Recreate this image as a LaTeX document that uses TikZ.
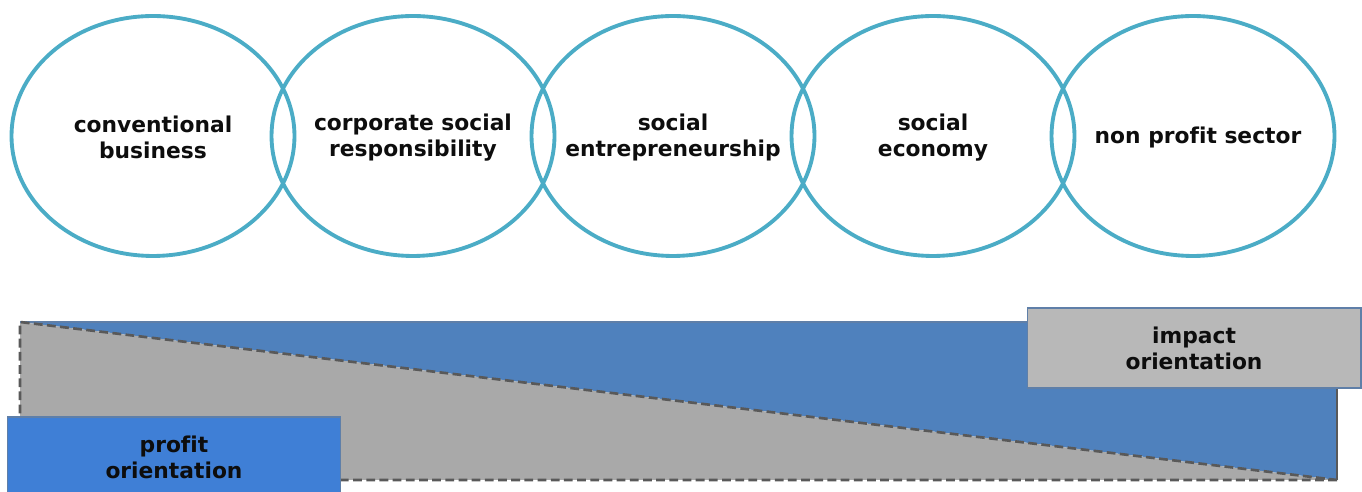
\documentclass[tikz,border=0pt]{standalone}
\usepackage{fontspec}
\setmainfont[Ligatures=NoCommon]{DejaVu Sans}
\usepackage{tikz}
\usetikzlibrary{shapes.geometric}
\definecolor{ringcyan}{HTML}{4BACC6}
\definecolor{barblue}{HTML}{4F81BD}
\definecolor{boxblue}{HTML}{3F7FD6}
\definecolor{bargray}{HTML}{A9A9A9}
\definecolor{boxgray}{HTML}{B8B8B8}
\definecolor{dashgray}{HTML}{595959}
\definecolor{edgeblue}{HTML}{5F7FA8}
\definecolor{inkblack}{HTML}{0D0D0D}

\begin{document}
\begin{tikzpicture}[x=0.02cm,y=-0.02cm,
		txt/.style={align=center,text=inkblack,font=\fontsize{12.4}{14.8}\selectfont\bfseries},
		ring/.style={ellipse,draw=ringcyan,line width=2.2pt,inner sep=0pt,minimum width=5.66cm,minimum height=4.8cm},
		tagbox/.style={txt,rectangle,draw=edgeblue,line width=0.6pt,minimum width=6.68cm,minimum height=1.6cm}]
		\useasboundingbox (0,0) rectangle (1362,492);
		\node[ring] (conv) at (153,136) {};
		\node[ring] (csr) at (413,136) {};
		\node[ring] (soent) at (673,136) {};
		\node[ring] (soeco) at (933,136) {};
		\node[ring] (npo) at (1193,136) {};
		\node[txt] (convtxt) at ([yshift=-0.03cm]conv) {conventional\\business};
		\node[txt] (csrtxt) at ([yshift=-0.03cm]csr) {corporate social\\responsibility};
		\node[txt] (soenttxt) at ([yshift=-0.03cm]soent) {social\\entrepreneurship};
		\node[txt] (soecotxt) at ([yshift=-0.03cm]soeco) {social\\economy};
		\node[txt] (npotxt) at ([xshift=0.1cm,yshift=-0.03cm]npo) {non profit sector};
		% corners of the bar
		\coordinate (tl) at (20,322);
		\coordinate (tr) at (1337,322);
		\coordinate (br) at (1337,480);
		\coordinate (bl) at (20,480);
		\fill[barblue] (tl) -- (tr) -- (br) -- cycle;
		\fill[bargray] (tl) -- (bl) -- (br) -- cycle;
		\draw[edgeblue,line width=1pt] (tl) -- (tr);
		\draw[dashgray,line width=1.2pt] (tr) -- (br);
		\draw[dashgray,line width=1.5pt,dash pattern=on 5pt off 2.5pt] (br) -- (bl) -- (tl) -- (br);
		\node[tagbox,fill=boxgray] (impact) at (1194,348) {impact\\orientation};
		\node[tagbox,fill=boxblue] (profit) at (174,457) {profit\\orientation};
	\end{tikzpicture}
\end{document}
